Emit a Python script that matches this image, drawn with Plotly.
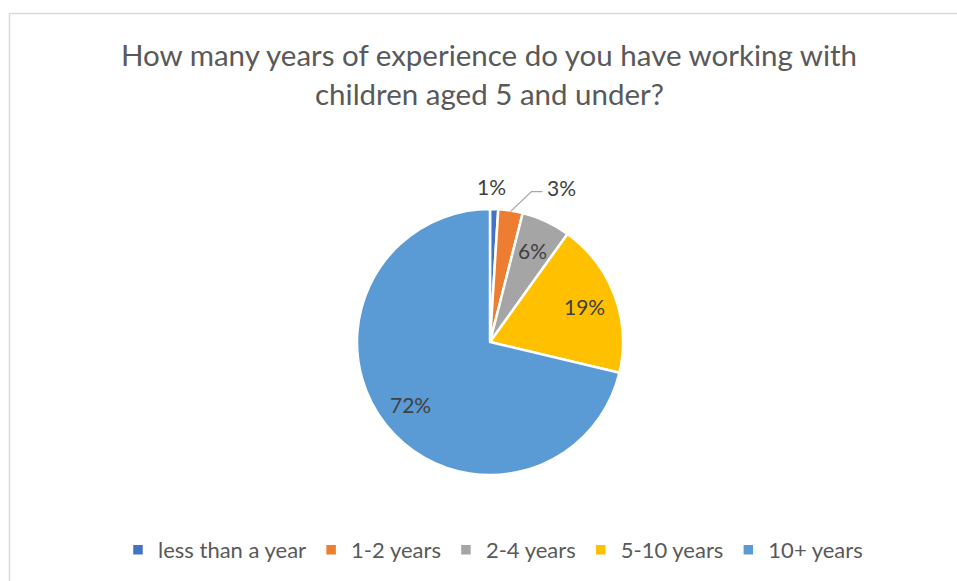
import math
import plotly.graph_objects as go

# Survey responses: years of experience working with children aged 5 and under
categories = ["less than a year", "1-2 years", "2-4 years", "5-10 years", "10+ years"]
shares = [1, 3, 6, 19, 72]  # percent of respondents
colors = ["#4472C4", "#ED7D31", "#A5A5A5", "#FFC000", "#5B9BD5"]
title_lines = ["How many years of experience do you have working with",
               "children aged 5 and under?"]

W, H = 957, 581
FONT = "Lato"
CX, CY, R = 490, 342, 133  # pie centre and radius in pixels (from top-left)
LABEL_FONT = dict(family=FONT, size=21, color="#404040")

fig = go.Figure(go.Pie(
    labels=categories,
    values=shares,
    marker=dict(colors=colors, line=dict(color="white", width=2.5)),
    sort=False,
    direction="clockwise",
    rotation=0,
    textinfo="none",
    hoverinfo="label+percent",
    domain=dict(x=[(CX - R) / W, (CX + R) / W],
                y=[(H - CY - R) / H, (H - CY + R) / H]),
))

# Data labels placed along each slice's mid-angle
total = sum(shares)
annotations = []
shapes = []
cum = 0.0
for i, (cat, v) in enumerate(zip(categories, shares)):
    mid = (cum + v / 2) / total * 2 * math.pi
    cum += v
    text = f"{v}%"
    if v >= 5:
        rr = 0.76 * R
        px = CX + rr * math.sin(mid)
        py = CY - rr * math.cos(mid)
        annotations.append(dict(x=px / W, y=1 - py / H, xref="paper", yref="paper",
                                text=text, showarrow=False,
                                xanchor="center", yanchor="middle", font=LABEL_FONT))
    elif i == 0:
        rr = 1.17 * R
        px = CX + rr * math.sin(mid) - 3
        py = CY - rr * math.cos(mid)
        annotations.append(dict(x=px / W, y=1 - py / H, xref="paper", yref="paper",
                                text=text, showarrow=False,
                                xanchor="center", yanchor="middle", font=LABEL_FONT))
    else:
        # leader line from the slice edge to a label set off to the right
        ex = CX + (R - 1) * math.sin(mid)
        ey = CY - (R - 1) * math.cos(mid)
        kx, ky = ex + 21, ey - 20
        lx = kx + 11
        shapes.append(dict(type="path", xref="paper", yref="paper",
                           path=f"M{ex / W},{1 - ey / H} L{kx / W},{1 - ky / H} L{lx / W},{1 - ky / H}",
                           line=dict(color="#A6A6A6", width=1.2)))
        annotations.append(dict(x=(lx + 3) / W, y=1 - (ky - 4) / H, xref="paper", yref="paper",
                                text=text, showarrow=False,
                                xanchor="left", yanchor="middle", font=LABEL_FONT))

# Chart title
for j, line in enumerate(title_lines):
    annotations.append(dict(x=489 / W, y=1 - (54 + 39 * j) / H, xref="paper", yref="paper",
                            text=line, showarrow=False,
                            xanchor="center", yanchor="middle",
                            font=dict(family=FONT, size=29.5, color="#595959")))

# Chart-area frame (runs off the right and bottom edges)
shapes.append(dict(type="rect", xref="paper", yref="paper",
                   x0=9.5 / W, x1=1.05, y0=-0.05, y1=1 - 13.5 / H,
                   line=dict(color="#D9D9D9", width=1.5), fillcolor="rgba(0,0,0,0)"))

fig.update_layout(
    width=W, height=H,
    margin=dict(l=0, r=0, t=0, b=0),
    paper_bgcolor="white",
    plot_bgcolor="white",
    font=dict(family=FONT, color="#595959"),
    annotations=annotations,
    shapes=shapes,
    showlegend=True,
    legend=dict(orientation="h", x=493 / W, xanchor="center",
                y=1 - 550 / H, yanchor="middle",
                font=dict(family=FONT, size=22, color="#595959"),
                itemwidth=30, traceorder="normal"),
)

fig.write_html("out.html")
